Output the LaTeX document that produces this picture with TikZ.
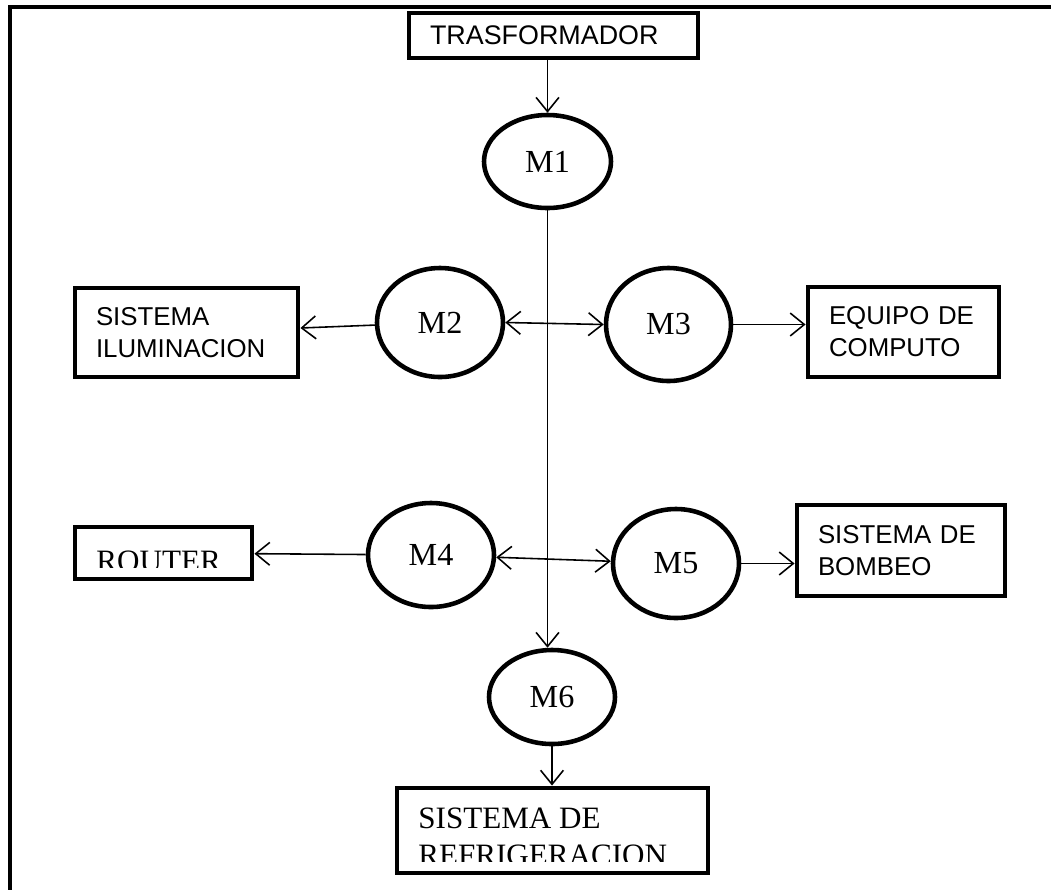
\documentclass[tikz,border=0pt]{standalone}
\usepackage{fontspec}
\setmainfont{Liberation Serif}
\newfontfamily\arialfont{Liberation Sans}
\usetikzlibrary{shapes.geometric,arrows.meta}
\begin{document}
\begin{tikzpicture}[x=0.02cm, y=-0.02cm,
  caja/.style={draw, line width=2.8pt, inner xsep=0.42cm, inner ysep=0pt, align=left,
    font=\arialfont\fontsize{14.7}{18.1}\selectfont},
  motor/.style={draw, ellipse, line width=2.6pt, inner sep=0pt,
    font=\fontsize{18.3}{20}\selectfont},
  rotulo/.style={inner sep=0pt, anchor=base west, font=\fontsize{17.7}{19.3}\selectfont},
  flecha/.style={line width=0.9pt, -{Straight Barb[length=8pt,width=13pt]}},
  doble/.style={line width=0.9pt, {Straight Barb[length=8pt,width=13pt]}-{Straight Barb[length=8pt,width=13pt]}}]
  \def\px{0.02cm}
  \useasboundingbox (0,0) rectangle (1051,890);
  % --- marco ---
  \draw[line width=2.3pt] (1051,7) -- (10,7) -- (10,890);
  % --- cajas ---
  \node[caja, text width=247*\px, minimum height=45*\px,
    font=\arialfont\fontsize{15.3}{18.1}\selectfont] (trafo) at (553.5,35.5) {TRASFORMADOR};
  \node[caja, text width=181*\px, minimum height=89*\px] (ilum) at (186.5,332.5) {SISTEMA\\ILUMINACION};
  \node[caja, text width=149*\px, minimum height=90*\px] (equipo) at (903.5,332) {EQUIPO DE\\COMPUTO};
  \node[caja, text width=166*\px, minimum height=91*\px] (bombeo) at (901,550.5) {SISTEMA DE\\BOMBEO};
  \node[caja, text width=135*\px, minimum height=52*\px] (router) at (163.5,553) {};
  \node[caja, text width=269*\px, minimum height=85*\px] (refrig) at (552.5,830.5) {};
  % textos recortados
  \begin{scope}
    \clip (80,530) rectangle (250,567);
    \node[rotulo] (routertxt) at (96,571) {ROUTER};
  \end{scope}
  \begin{scope}
    \clip (400,790) rectangle (706,861.5);
    \node[rotulo] (refriga) at (418,828) {SISTEMA DE};
    \node[rotulo] (refrigb) at (418,865) {REFRIGERACION};
  \end{scope}
  % --- motores ---
  \node[motor, minimum width=127*\px, minimum height=93*\px] (M1) at (547.5,161.5) {M1};
  \node[motor, minimum width=126*\px, minimum height=109*\px] (M2) at (440,322.5) {M2};
  \node[motor, minimum width=125*\px, minimum height=113*\px] (M3) at (668.5,324.5) {M3};
  \node[motor, minimum width=126*\px, minimum height=104*\px] (M4) at (431,555) {M4};
  \node[motor, minimum width=126*\px, minimum height=109*\px] (M5) at (676,563.5) {M5};
  \node[motor, minimum width=126*\px, minimum height=94*\px] (M6) at (552,697) {M6};
  % --- conexiones ---
  \draw[flecha] (trafo.south -| M1.north) -- (M1.north);
  \draw[flecha] (M1.south) -- (M1.south |- M6.north);
  \draw[doble] (M2.east) -- (M3.west);
  \draw[doble] (M4) -- (M5);
  \draw[flecha] (M2) -- (ilum);
  \draw[flecha] (M3.east) -- (M3.east -| equipo.west);
  \draw[flecha] (M4) -- (router);
  \draw[flecha] (M5.east) -- (M5.east -| bombeo.west);
  \draw[flecha] (M6.south) -- (M6.south |- refrig.north);
\end{tikzpicture}
\end{document}
